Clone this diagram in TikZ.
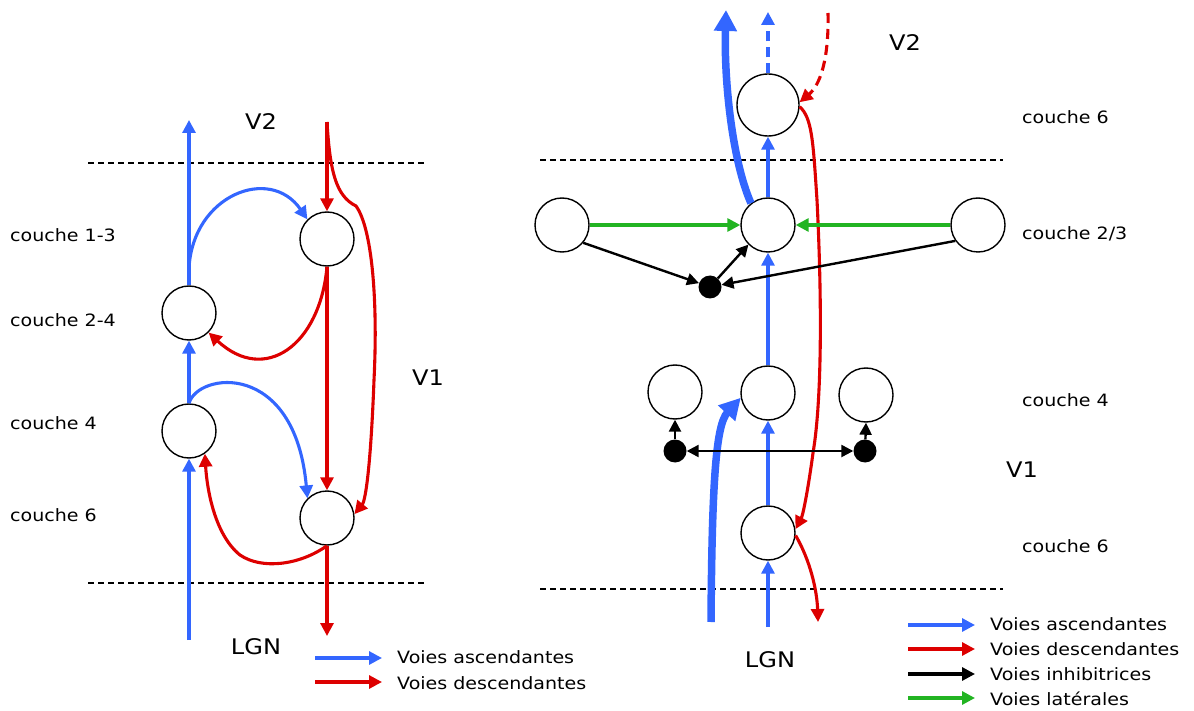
\documentclass[tikz,border=0pt]{standalone}
\usepackage{fontspec}
\newfontfamily\labfont{DejaVu Sans}[FakeStretch=1.12]
\usetikzlibrary{arrows.meta}
\definecolor{ablue}{RGB}{51,102,255}
\definecolor{dred}{RGB}{221,0,0}
\definecolor{lgreen}{RGB}{34,180,34}
\begin{document}
\begin{tikzpicture}[x=1pt,y=-1pt,
  neuron/.style={circle,draw=black,line width=1.4pt,minimum size=54pt,inner sep=0pt},
  bigneuron/.style={neuron,minimum size=62pt},
  dotnode/.style={circle,fill=black,minimum size=23pt,inner sep=0pt},
  tipthin/.tip={Triangle[length=13pt,width=13pt]},
  asc/.style={draw=ablue,line width=3.1pt,-tipthin},
  ascthick/.style={draw=ablue,line width=7.5pt,-{Triangle[length=21pt,width=22pt]}},
  desc/.style={draw=dred,line width=3.1pt,-tipthin},
  inhib/.style={draw=black,line width=2.4pt,-{Triangle[length=12pt,width=12pt]}},
  inhibboth/.style={draw=black,line width=2.4pt,{Triangle[length=12pt,width=12pt]}-{Triangle[length=12pt,width=12pt]}},
  lateral/.style={draw=lgreen,line width=3.1pt,-tipthin},
  layerline/.style={draw=black,line width=1.4pt,dash pattern=on 6pt off 4pt},
  lab/.style={font=\labfont\fontsize{17}{20}\selectfont,inner sep=0pt,anchor=west},
  big/.style={font=\labfont\fontsize{21.5}{25}\selectfont,inner sep=0pt},
  leg/.style={font=\labfont\fontsize{17}{20}\selectfont,inner sep=0pt,anchor=west}
]
\useasboundingbox (0,0) rectangle (1194,711);

% ================= LEFT DIAGRAM =================
\coordinate (ld0a) at (88,163);  \coordinate (ld0b) at (425,163);
\coordinate (ld1a) at (88,583);  \coordinate (ld1b) at (425,583);
\draw[layerline] (ld0a) -- (ld0b);
\draw[layerline] (ld1a) -- (ld1b);

\node[neuron] (c13) at (327,239) {};
\node[neuron] (c24) at (189,313) {};
\node[neuron] (c4l) at (189,431) {};
\node[neuron] (c6l) at (327,518) {};

\coordinate (lb0) at (189,640);
\coordinate (lb1) at (189,120);
\coordinate (lbs) at (189,268);
\draw[asc] (lb0) -- (c4l.south);
\draw[asc] (c4l.north) -- (c24.south);
\draw[asc] (c24.north) -- (lb1);
\draw[asc] (lbs) .. controls (193,195) and (270,165) .. (c13.135);
\draw[asc] (c4l.north) .. controls (198,372) and (295,360) .. (c6l.135);

\coordinate (lr0) at (327,122);
\coordinate (lr1) at (327,636);
\draw[desc] (lr0) -- (c13.north);
\draw[desc] (c13.south) -- (c6l.north);
\draw[desc] (c6l.south) -- (lr1);
\draw[desc] (lr0) .. controls (330,172) and (336,196) .. (356,206)
   .. controls (372,228) and (378,300) .. (374,380)
   .. controls (371,460) and (366,500) .. (c6l.8);
\draw[desc] (c13.south) .. controls (320,345) and (265,385) .. (c24.-45);
\draw[desc] (c6l.south) .. controls (300,565) and (262,570) .. (240,555)
   .. controls (215,535) and (207,490) .. (c4l.-55);

\node[lab] (t13) at (10,235) {couche 1-3};
\node[lab] (t24) at (10,320) {couche 2-4};
\node[lab] (t4l) at (10,423) {couche 4};
\node[lab] (t6l) at (10,515) {couche 6};
\node[big] (v2l) at (261,122) {V2};
\node[big] (v1l) at (428,378) {V1};
\node[big] (lgnl) at (256,647) {LGN};

\coordinate (lga0) at (315,658); \coordinate (lga1) at (382,658);
\coordinate (lgd0) at (315,682); \coordinate (lgd1) at (382,682);
\draw[asc] (lga0) -- (lga1);
\draw[desc] (lgd0) -- (lgd1);
\node[leg] (tla) at (397,657) {Voies ascendantes};
\node[leg] (tld) at (397,683) {Voies descendantes};

% ================= RIGHT DIAGRAM =================
\coordinate (rd0a) at (540,160);  \coordinate (rd0b) at (1003,160);
\coordinate (rd1a) at (540,589);  \coordinate (rd1b) at (1003,589);
\draw[layerline] (rd0a) -- (rd0b);
\draw[layerline] (rd1a) -- (rd1b);

\node[bigneuron] (r6t) at (768,105) {};
\node[neuron] (r23) at (768,225) {};
\node[neuron] (r23l) at (562,225) {};
\node[neuron] (r23r) at (978,225) {};
\node[dotnode] (dot1) at (710,287) {};
\node[neuron] (r4) at (768,393) {};
\node[neuron] (r4l) at (675,392) {};
\node[neuron] (r4r) at (866,395) {};
\node[dotnode] (dotl) at (675,451) {};
\node[dotnode] (dotr) at (865,451) {};
\node[neuron] (r6) at (768,533) {};

% ascending thin
\coordinate (rb0) at (768,627);
\coordinate (rb1) at (768,12);
\draw[asc] (rb0) -- (r6.south);
\draw[asc] (r6.north) -- (r4.south);
\draw[asc] (r4.north) -- (r23.south);
\draw[asc] (r23.north) -- (r6t.south);
\draw[asc,dash pattern=on 10pt off 6pt] (r6t.north) -- (rb1);

% ascending thick
\coordinate (rtb0) at (711,622);
\coordinate (rtb1) at (726,10);
\draw[ascthick] (rtb0) .. controls (712,480) and (716,425) .. (r4.190);
\draw[ascthick] (r23.128) .. controls (732,160) and (724,80) .. (rtb1);

% descending
\coordinate (rr0) at (828,13);
\coordinate (rr1) at (818,622);
\draw[desc,dash pattern=on 10pt off 6pt] (rr0) .. controls (829,60) and (820,85) .. (r6t.5);
\draw[desc] (r6t.-3) .. controls (812,118) and (813,140) .. (817,200)
   .. controls (822,300) and (822,400) .. (813,453)
   .. controls (808,490) and (803,515) .. (r6.8);
\draw[desc] (r6.-5) .. controls (810,560) and (817,590) .. (rr1);

% lateral
\draw[lateral] (r23l.east) -- (r23.west);
\draw[lateral] (r23r.west) -- (r23.east);

% inhibitory
\draw[inhib] (r23l.-40) -- (dot1);
\draw[inhib] (r23r.-145) -- (dot1);
\draw[inhib] (dot1) -- (r23.-135);
\draw[inhibboth] (dotl) -- (dotr);
\draw[inhib] (dotl) -- (r4l.south);
\draw[inhib] (dotr) -- (r4r.south);

\node[lab] (tr6t) at (1022,117) {couche 6};
\node[lab] (tr23) at (1022,234) {couche 2/3};
\node[lab] (tr4) at (1022,400) {couche 4};
\node[lab] (tr6) at (1022,546) {couche 6};
\node[big] (v2r) at (905,43) {V2};
\node[big] (v1r) at (1022,470) {V1};
\node[big] (lgnr) at (770,660) {LGN};

\coordinate (rga0) at (908,625); \coordinate (rga1) at (975,625);
\coordinate (rgd0) at (908,649); \coordinate (rgd1) at (975,649);
\coordinate (rgi0) at (908,674); \coordinate (rgi1) at (975,674);
\coordinate (rgl0) at (908,698); \coordinate (rgl1) at (975,698);
\draw[asc] (rga0) -- (rga1);
\draw[desc] (rgd0) -- (rgd1);
\draw[draw=black,line width=3.1pt,-tipthin] (rgi0) -- (rgi1);
\draw[lateral] (rgl0) -- (rgl1);
\node[leg] (tra) at (990,624) {Voies ascendantes};
\node[leg] (trd) at (990,649) {Voies descendantes};
\node[leg] (tri) at (990,674) {Voies inhibitrices};
\node[leg] (trl) at (990,699) {Voies latérales};
\end{tikzpicture}
\end{document}
